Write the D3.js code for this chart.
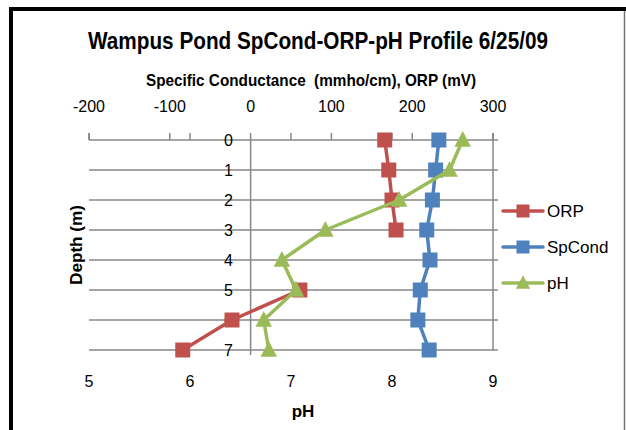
<!DOCTYPE html>
<html><head><meta charset="utf-8">
<script src="https://cdn.jsdelivr.net/npm/d3@7"></script>
<style>
html,body{margin:0;padding:0;background:#fff;}
svg{display:block;}
text{font-family:"Liberation Sans Narrow","Arial Narrow","Liberation Sans",Arial,sans-serif;fill:#000;}
</style></head>
<body>
<svg id="c" width="626" height="430"></svg>
<script>
const depths = [0,1,2,3,4,5,6,7];
const orpDepths = [0,1,2,3,null,5,6,7];
const orpValues = [166,171,175,180,null,61,-23,-84];
const spCondValues = [233,229,225,218,222,210,207,221];
const phValues = [8.70,8.57,8.07,7.34,6.91,7.05,6.73,6.78];
const topTicks = [-200,-100,0,100,200,300];
const phTicks = [5,6,7,8,9];
const title = "Wampus Pond SpCond-ORP-pH Profile 6/25/09";
const topTitle = "Specific Conductance \u00A0(mmho/cm), ORP (mV)";
const series = [
  {name:"ORP", color:"#C0504D", marker:"square"},
  {name:"SpCond", color:"#4F81BD", marker:"square"},
  {name:"pH", color:"#9BBB59", marker:"triangle"}
];

const svg = d3.select("#c");
const y = d3.scaleLinear().domain([0,7]).range([140,350]);
const xTop = d3.scaleLinear().domain([-200,300]).range([89,493]);
const xPh = d3.scaleLinear().domain([5,9]).range([89,493]);
const grid = "#878787";

// frame
svg.append("rect").attr("x",0).attr("y",0).attr("width",626).attr("height",430).attr("fill","#fff");
svg.append("line").attr("x1",11).attr("x2",11).attr("y1",7).attr("y2",430).attr("stroke","#000").attr("stroke-width",4);
svg.append("line").attr("x1",9).attr("x2",626).attr("y1",9).attr("y2",9).attr("stroke","#000").attr("stroke-width",4);
svg.append("line").attr("x1",624.5).attr("x2",624.5).attr("y1",11).attr("y2",430).attr("stroke","#777").attr("stroke-width",1.5);

// titles
svg.append("text").attr("x",318).attr("y",49).attr("text-anchor","middle")
  .attr("font-size",23).attr("font-weight","bold").attr("textLength",460).attr("lengthAdjust","spacingAndGlyphs").text(title);
svg.append("text").attr("x",311).attr("y",86).attr("text-anchor","middle")
  .attr("font-size",17).attr("font-weight","bold").attr("textLength",330).attr("lengthAdjust","spacingAndGlyphs").text(topTitle);

// gridlines
svg.append("g").selectAll("line").data(depths).join("line")
  .attr("x1",89).attr("x2",498).attr("y1",d=>y(d)).attr("y2",d=>y(d))
  .attr("stroke",grid).attr("stroke-width",1.5);
// top ticks
svg.append("g").selectAll("line").data(topTicks).join("line")
  .attr("x1",d=>xTop(d)).attr("x2",d=>xTop(d)).attr("y1",140).attr("y2",133)
  .attr("stroke",grid).attr("stroke-width",1.5);
svg.append("g").selectAll("line").data(phTicks).join("line")
  .attr("x1",d=>xPh(d)).attr("x2",d=>xPh(d)).attr("y1",140).attr("y2",133)
  .attr("stroke",grid).attr("stroke-width",1.5);
// vertical axis lines
svg.append("line").attr("x1",xTop(0)).attr("x2",xTop(0)).attr("y1",140).attr("y2",355).attr("stroke",grid).attr("stroke-width",1.5);
svg.append("line").attr("x1",xPh(9)).attr("x2",xPh(9)).attr("y1",133).attr("y2",350).attr("stroke",grid).attr("stroke-width",1.5);

// top tick labels
svg.append("g").selectAll("text").data(topTicks).join("text")
  .attr("x",d=>xTop(d)).attr("y",112).attr("text-anchor","middle").attr("font-size",16).text(d=>d);
// pH tick labels
svg.append("g").selectAll("text").data(phTicks).join("text")
  .attr("x",d=>xPh(d)).attr("y",387).attr("text-anchor","middle").attr("font-size",16).text(d=>d);
// depth labels
svg.append("g").selectAll("text").data(depths).join("text")
  .attr("x",233).attr("y",d=>y(d)+6).attr("text-anchor","end").attr("font-size",16).text(d=>d);
// axis titles
svg.append("text").attr("x",303).attr("y",417).attr("text-anchor","middle").attr("font-size",17).attr("font-weight","bold").text("pH");
svg.append("text").attr("transform","translate(82,245) rotate(-90)").attr("text-anchor","middle").attr("font-size",17).attr("font-weight","bold").attr("textLength",80).attr("lengthAdjust","spacingAndGlyphs").text("Depth (m)");

function drawMarker(g, kind, cx, cy, color, s){
  if(kind==="square"){
    g.append("rect").attr("x",cx-s/2).attr("y",cy-s/2).attr("width",s).attr("height",s).attr("fill",color);
  } else {
    const h=s;
    g.append("path").attr("d",`M${cx},${cy-h*0.6}L${cx+s*0.55},${cy+h*0.45}L${cx-s*0.55},${cy+h*0.45}Z`).attr("fill",color);
  }
}

const data = [
  orpDepths.map((d,i)=> d===null ? null : [xTop(orpValues[i]), y(d)]),
  depths.map((d,i)=>[xTop(spCondValues[i]), y(d)]),
  depths.map((d,i)=>[xPh(phValues[i]), y(d)])
];
const line = d3.line().defined(p=>p!==null);
series.forEach((s,k)=>{
  const g = svg.append("g");
  g.append("path").attr("d",line(data[k])).attr("fill","none").attr("stroke",s.color).attr("stroke-width",3.5).attr("stroke-linejoin","round");
  data[k].filter(p=>p!==null).forEach(p=>drawMarker(g,s.marker,p[0],p[1],s.color,15));
});

// legend
const legY = [211,247,283];
series.forEach((s,k)=>{
  const g = svg.append("g");
  g.append("line").attr("x1",503).attr("x2",543).attr("y1",legY[k]).attr("y2",legY[k]).attr("stroke",s.color).attr("stroke-width",3.5).attr("stroke-linecap","round");
  drawMarker(g,s.marker,523,legY[k],s.color,13);
  g.append("text").attr("x",547).attr("y",legY[k]+6).attr("font-size",17).text(s.name);
});
</script>
</body></html>
